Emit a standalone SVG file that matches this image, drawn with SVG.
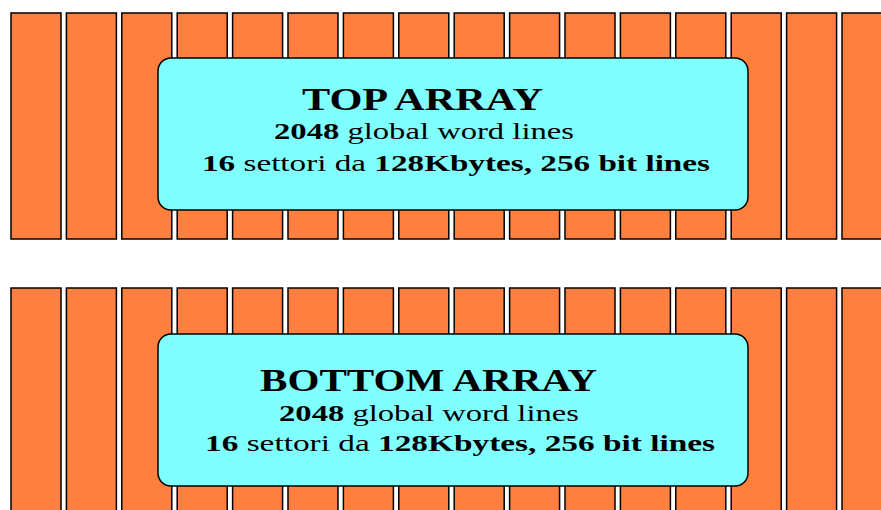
<svg xmlns="http://www.w3.org/2000/svg" width="881" height="510" viewBox="0 0 881 510">
<defs>
<style>
.bar{fill:#FF7F3F;stroke:#000;stroke-width:1.5}
.box{fill:#80FFFF;stroke:#000;stroke-width:1.5}
text{font-family:"Liberation Serif","Times New Roman",serif;fill:#000}
.t{font-size:32px;font-weight:bold}
.s{font-size:24px}
.b{font-weight:bold}
</style>
<g id="bar" ><rect class="bar" x="0" y="0" width="50" height="226"/></g>
</defs>
<rect width="881" height="510" fill="#fff"/>
<g id="top-bars">
<use href="#bar" x="11" y="13"/><use href="#bar" x="66.4" y="13"/><use href="#bar" x="121.8" y="13"/><use href="#bar" x="177.2" y="13"/>
<use href="#bar" x="232.6" y="13"/><use href="#bar" x="288" y="13"/><use href="#bar" x="343.4" y="13"/><use href="#bar" x="398.8" y="13"/>
<use href="#bar" x="454.2" y="13"/><use href="#bar" x="509.6" y="13"/><use href="#bar" x="565" y="13"/><use href="#bar" x="620.4" y="13"/>
<use href="#bar" x="675.8" y="13"/><use href="#bar" x="731.2" y="13"/><use href="#bar" x="786.6" y="13"/><use href="#bar" x="842" y="13"/>
</g>
<g id="bottom-bars">
<use href="#bar" x="11" y="288"/><use href="#bar" x="66.4" y="288"/><use href="#bar" x="121.8" y="288"/><use href="#bar" x="177.2" y="288"/>
<use href="#bar" x="232.6" y="288"/><use href="#bar" x="288" y="288"/><use href="#bar" x="343.4" y="288"/><use href="#bar" x="398.8" y="288"/>
<use href="#bar" x="454.2" y="288"/><use href="#bar" x="509.6" y="288"/><use href="#bar" x="565" y="288"/><use href="#bar" x="620.4" y="288"/>
<use href="#bar" x="675.8" y="288"/><use href="#bar" x="731.2" y="288"/><use href="#bar" x="786.6" y="288"/><use href="#bar" x="842" y="288"/>
</g>
<g id="top-array">
<rect class="box" x="158" y="58" width="590" height="152" rx="13"/>
<text class="t" x="302" y="110" textLength="241" lengthAdjust="spacingAndGlyphs">TOP ARRAY</text>
<text class="s" x="274" y="139" textLength="300" lengthAdjust="spacingAndGlyphs"><tspan class="b">2048</tspan>  global word lines</text>
<text class="s" x="202" y="171" textLength="508" lengthAdjust="spacingAndGlyphs"><tspan class="b">16</tspan> settori da <tspan class="b">128Kbytes, 256 bit lines</tspan></text>
</g>
<g id="bottom-array">
<rect class="box" x="158" y="334" width="590" height="152" rx="13"/>
<text class="t" x="260" y="391" textLength="337" lengthAdjust="spacingAndGlyphs">BOTTOM ARRAY</text>
<text class="s" x="279" y="421" textLength="300" lengthAdjust="spacingAndGlyphs"><tspan class="b">2048</tspan>  global word lines</text>
<text class="s" x="205" y="451" textLength="510" lengthAdjust="spacingAndGlyphs"><tspan class="b">16</tspan> settori da <tspan class="b">128Kbytes, 256 bit lines</tspan></text>
</g>
<g id="connectors"/>
</svg>
